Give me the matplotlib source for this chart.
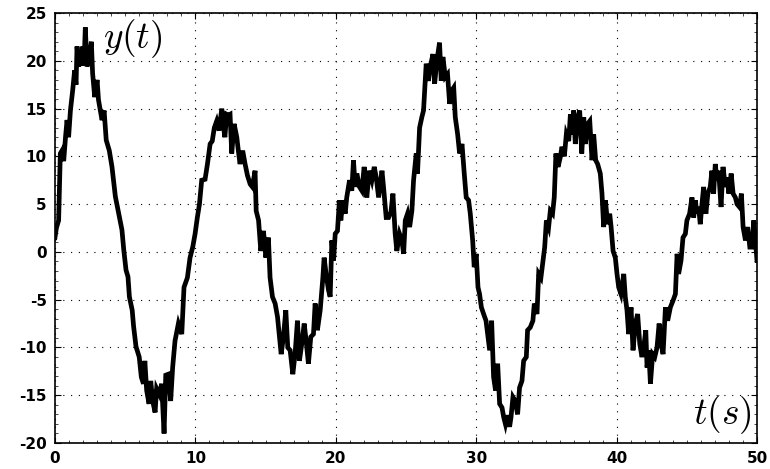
import matplotlib
matplotlib.use('Agg')
import matplotlib.pyplot as plt
import numpy as np

# signal, t in seconds
t = [0.0, 0.1, 0.26, 0.38, 0.5, 0.62, 0.75, 0.86, 0.97, 1.1, 1.26, 1.4, 1.5, 1.57, 1.69, 1.85, 1.92, 1.97,
     2.08, 2.16, 2.28, 2.45, 2.59, 2.68, 2.83, 3.0, 3.1, 3.35, 3.5, 3.65, 3.87, 4.06, 4.3, 4.54, 4.77, 4.9,
     5.06, 5.2, 5.3, 5.5, 5.6, 5.77, 6.0, 6.15, 6.3, 6.4, 6.53, 6.7, 6.82, 6.96, 7.13, 7.24, 7.43, 7.6,
     7.77, 7.89, 8.07, 8.24, 8.38, 8.55, 8.79, 9.03, 9.19, 9.43, 9.62, 9.81, 9.98, 10.14, 10.29, 10.45,
     10.69, 10.86, 11.05, 11.2, 11.35, 11.52, 11.69, 11.88, 12.04, 12.1, 12.23, 12.35, 12.47, 12.59, 12.76,
     12.95, 13.06, 13.18, 13.37, 13.54, 13.71, 13.9, 14.06, 14.25, 14.33, 14.5, 14.66, 14.85, 15.02, 15.2,
     15.32, 15.49, 15.68, 15.85, 15.99, 16.11, 16.27, 16.44, 16.58, 16.75, 16.94, 17.1, 17.27, 17.41,
     17.58, 17.75, 17.89, 18.05, 18.22, 18.41, 18.53, 18.69, 18.89, 19.08, 19.17, 19.31, 19.48, 19.6,
     19.72, 19.84, 19.96, 20.12, 20.26, 20.36, 20.5, 20.67, 20.78, 20.98, 21.14, 21.26, 21.38, 21.5,
     21.69, 21.86, 22.02, 22.21, 22.38, 22.57, 22.74, 22.88, 23.05, 23.29, 23.4, 23.59, 23.76, 23.93,
     24.07, 24.23, 24.35, 24.54, 24.71, 24.83, 24.95, 25.11, 25.26, 25.42, 25.54, 25.73, 25.82, 25.97,
     26.13, 26.25, 26.44, 26.6, 26.72, 26.92, 27.04, 27.2, 27.39, 27.51, 27.63, 27.8, 27.96, 28.11,
     28.27, 28.4, 28.51, 28.68, 28.82, 28.99, 29.15, 29.29, 29.46, 29.58, 29.75, 29.86, 30.0, 30.13,
     30.24, 30.37, 30.53, 30.7, 30.84, 30.96, 31.1, 31.24, 31.38, 31.53, 31.67, 31.84, 31.96, 32.08,
     32.2, 32.38, 32.48, 32.62, 32.78, 32.95, 33.09, 33.26, 33.38, 33.57, 33.66, 33.85, 34.04, 34.14,
     34.33, 34.45, 34.61, 34.76, 34.88, 35.0, 35.16, 35.28, 35.44, 35.56, 35.68, 35.83, 35.99, 36.11,
     36.28, 36.42, 36.59, 36.71, 36.83, 36.94, 37.06, 37.23, 37.37, 37.52, 37.66, 37.78, 37.94, 38.09,
     38.25, 38.37, 38.51, 38.65, 38.84, 38.96, 39.08, 39.2, 39.37, 39.51, 39.61, 39.75, 39.91, 40.03,
     40.15, 40.31, 40.51, 40.62, 40.74, 40.86, 41.03, 41.17, 41.34, 41.5, 41.65, 41.81, 41.93, 42.08,
     42.17, 42.29, 42.41, 42.57, 42.72, 42.88, 43.03, 43.17, 43.31, 43.48, 43.64, 43.83, 44.02, 44.19,
     44.31, 44.42, 44.59, 44.73, 44.9, 45.01, 45.2, 45.37, 45.49, 45.61, 45.72, 45.84, 45.96, 46.08,
     46.2, 46.36, 46.5, 46.67, 46.79, 46.91, 47.03, 47.15, 47.27, 47.44, 47.58, 47.75, 47.86, 48.0,
     48.16, 48.3, 48.46, 48.58, 48.75, 48.89, 49.01, 49.18, 49.34, 49.49, 49.65, 49.77, 49.89, 50.0]

y = [1.5, 2.5, 3.3, 10.3, 10.6, 9.5, 12.0, 13.8, 12.0, 14.8, 16.9, 19.0, 17.5, 21.5, 19.4, 20.8, 19.5, 21.5,
     20.0, 23.5, 19.4, 20.4, 22.0, 18.7, 16.2, 18.0, 15.9, 13.8, 14.8, 11.7, 10.6, 8.9, 5.8, 4.0, 2.3, 0.2,
     -1.9, -2.6, -4.7, -6.1, -7.8, -9.9, -11.0, -13.1, -13.8, -11.4, -14.5, -15.9, -13.5, -15.6, -16.8, -14.3, -14.9, -13.8,
     -19.0, -12.9, -12.8, -15.6, -12.1, -9.3, -7.5, -8.6, -3.7, -2.7, -0.6, 0.5, 1.9, 3.6, 5.0, 7.5,
     7.6, 9.2, 11.3, 11.6, 13.0, 13.7, 12.7, 15.0, 12.7, 12.0, 14.4, 14.3, 14.4, 10.3, 13.4,
     12.0, 10.6, 9.2, 10.6, 9.2, 8.0, 7.1, 6.8, 8.5, 4.3, 3.3, 0.1, 2.2, -0.6, 1.5,
     -2.7, -4.7, -5.4, -6.8, -8.9, -10.7, -8.9, -6.1, -10.0, -10.3, -12.8, -10.7, -7.2, -11.4,
     -9.6, -7.5, -9.3, -11.7, -8.9, -8.6, -5.4, -8.2, -6.1, -2.7, -0.6, -2.3, -4.0, -4.7,
     1.2, -0.9, 1.9, 2.2, 5.4, 3.3, 5.4, 4.0, 5.7, 7.5, 6.4, 9.6, 6.8, 8.2,
     6.8, 6.4, 8.9, 5.7, 8.5, 7.5, 8.9, 7.8, 5.7, 8.5, 6.8, 3.6, 3.6, 4.2,
     6.1, 1.9, 0.1, 1.9, 1.2, -0.2, 3.3, 4.0, 2.6, 4.3, 7.5, 10.3, 8.2, 13.0,
     14.1, 14.8, 19.7, 17.9, 19.3, 20.7, 17.6, 20.0, 21.9, 17.9, 20.4, 18.3, 18.6, 15.5,
     16.9, 17.2, 14.1, 12.3, 10.3, 11.3, 8.2, 5.7, 5.4, 4.0, 1.2, -1.6, -0.2, -3.7,
     -4.4, -5.8, -6.5, -7.2, -8.9, -10.3, -7.2, -13.1, -14.5, -11.7, -15.9, -16.3, -17.3, -18.0,
     -17.1, -18.3, -17.3, -15.2, -15.6, -17.0, -14.2, -13.5, -11.4, -11.0, -8.2, -7.9, -7.2, -5.4,
     -6.5, -2.3, -2.7, -0.9, 0.5, 3.3, 2.6, 4.3, 4.0, 5.7, 10.3, 8.9, 9.9, 11.0,
     10.0, 12.3, 11.6, 14.4, 12.3, 14.8, 11.3, 14.1, 14.8, 10.3, 14.1, 11.3, 13.4, 13.7,
     9.6, 12.3, 9.6, 9.2, 8.2, 6.1, 2.6, 5.4, 2.9, 4.0, 2.6, 0.1, -0.6, -2.3,
     -3.7, -4.4, -2.3, -4.7, -6.1, -8.6, -5.8, -10.3, -7.5, -6.5, -9.6, -11.0, -10.0, -8.2,
     -12.1, -10.3, -13.8, -10.7, -11.0, -10.0, -7.5, -9.6, -10.7, -5.8, -7.2, -5.8, -5.1, -4.4,
     -0.2, -2.3, -0.9, 1.5, 1.9, 3.3, 4.0, 5.7, 3.6, 5.4, 4.0, 4.7, 2.9, 5.0,
     6.8, 4.0, 6.1, 6.8, 8.5, 6.1, 9.2, 7.5, 8.5, 4.7, 8.9, 6.8, 7.8, 6.1,
     8.2, 6.1, 5.7, 5.0, 4.7, 6.1, 2.6, 1.2, 2.6, 0.5, 0.5, 3.3, 1.2, -0.9]

xticks = [0, 10, 20, 30, 40, 50]
yticks = [-20, -15, -10, -5, 0, 5, 10, 15, 20, 25]

plt.rcParams['mathtext.fontset'] = 'cm'

fig = plt.figure(figsize=(7.7, 4.69), dpi=100)
ax = fig.add_axes([0.0714, 0.0554, 0.9117, 0.9168])

ax.plot(t, y, color='black', linewidth=3.4, solid_joinstyle='miter')

ax.set_xlim(0, 50)
ax.set_ylim(-20, 25)
ax.set_xticks(xticks)
ax.set_yticks(yticks)
ax.set_xticklabels([str(v) for v in xticks], fontweight='bold', fontsize=11, family='DejaVu Sans')
ax.set_yticklabels([str(v) for v in yticks], fontweight='bold', fontsize=11, family='DejaVu Sans')
ax.xaxis.set_minor_locator(matplotlib.ticker.MultipleLocator(1))
ax.yaxis.set_minor_locator(matplotlib.ticker.MultipleLocator(1))
ax.tick_params(which='both', direction='in', top=True, right=True)
ax.tick_params(axis='x', which='major', length=4, width=0.8, pad=6)
ax.tick_params(axis='y', which='major', length=4, width=0.8, pad=6)
ax.tick_params(which='minor', length=2, width=0.5)
ax.grid(True, which='major', linestyle=(0, (1, 6)), color='black', linewidth=0.8)
for s in ax.spines.values():
    s.set_linewidth(1.2)

ax.text(0.068, 0.94, r'$y(t)$', transform=ax.transAxes, fontsize=27, ha='left', va='center')
ax.text(0.992, 0.066, r'$t(s)$', transform=ax.transAxes, fontsize=27, ha='right', va='center')

fig.savefig('out.png', dpi=100)
